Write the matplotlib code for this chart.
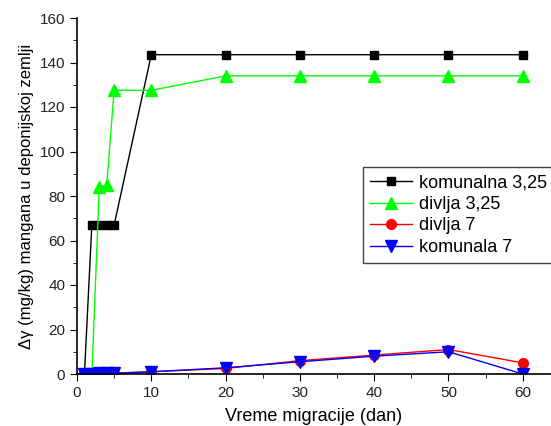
import matplotlib
matplotlib.use("Agg")
import matplotlib.pyplot as plt
from matplotlib.ticker import MultipleLocator

plt.rcParams['font.family'] = ['Liberation Sans', 'DejaVu Sans']

days = [1, 2, 3, 4, 5, 10, 20, 30, 40, 50, 60]
komunalna_325 = [0, 67, 67, 67, 67, 143.5, 143.5, 143.5, 143.5, 143.5, 143.5]
divlja_325 = [0, 0, 84, 85, 127.5, 127.5, 134, 134, 134, 134, 134]
divlja_7 = [0.3, 0.3, 0.4, 0.4, 0.4, 1, 2.5, 6, 8.5, 11, 5]
komunala_7 = [0.2, 0.2, 0.3, 0.3, 0.3, 1, 2.8, 5.5, 8, 10, 0]

fig = plt.figure(figsize=(5.51, 4.26), dpi=100)
ax = fig.add_axes([77/551, 52/426, 1 - 77/551, 356/426])

ax.plot(days, komunalna_325, color='black', marker='s', ms=6, lw=1, label='komunalna 3,25')
ax.plot(days, divlja_325, color='#00ff00', marker='^', ms=8, lw=1, label='divlja 3,25')
ax.plot(days, divlja_7, color='red', marker='o', ms=7, lw=1, label='divlja 7')
ax.plot(days, komunala_7, color='blue', marker='v', ms=8, lw=1, label='komunala 7')

ax.set_xlim(0, 63.8)
ax.set_ylim(0, 160)
ax.xaxis.set_major_locator(MultipleLocator(10))
ax.xaxis.set_minor_locator(MultipleLocator(5))
ax.yaxis.set_major_locator(MultipleLocator(20))
ax.yaxis.set_minor_locator(MultipleLocator(10))
ax.tick_params(which='major', direction='out', length=5, labelsize=11)
ax.tick_params(which='minor', direction='out', length=3)
ax.spines['top'].set_visible(False)
ax.spines['right'].set_visible(False)
for s in ax.spines.values():
    s.set_linewidth(1.2)
for lbl in ax.get_xticklabels() + ax.get_yticklabels():
    lbl.set_color('#222222')

ax.set_xlabel('Vreme migracije (dan)', fontsize=13, labelpad=6)
ax.set_ylabel('Δγ (mg/kg) mangana u deponijskoj zemlji', fontsize=12, labelpad=4)

leg = ax.legend(loc='upper left', bbox_to_anchor=(0.603, 0.581), fontsize=13,
                frameon=True, fancybox=False, edgecolor='#444444', framealpha=1,
                handlelength=2.3, borderpad=0.4, labelspacing=0.25, handletextpad=0.4,
                borderaxespad=0)
leg.get_frame().set_linewidth(1)

fig.savefig('out.png', dpi=100)
